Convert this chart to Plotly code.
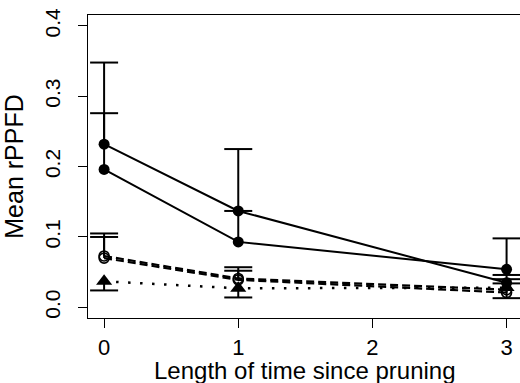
import plotly.graph_objects as go

# ---- data ----
years = [0, 1, 3]

solid_a = [0.232, 0.137, 0.035]
solid_a_upper = [0.348, 0.225, 0.046]

solid_b = [0.196, 0.093, 0.054]
solid_b_upper = [0.276, 0.137, 0.098]

dash_c = [0.073, 0.041, 0.025]
dash_c_upper = [0.105, 0.057, 0.040]

dash_d = [0.070, 0.039, 0.021]
dash_d_upper = [0.100, 0.052, 0.034]

dot_e = [0.037, 0.027, 0.028]
dot_e_lower = [0.024, 0.014, 0.013]

x_ticks = [0, 1, 2, 3]
y_ticks = [0.0, 0.1, 0.2, 0.3, 0.4]
y_tick_labels = ["0.0", "0.1", "0.2", "0.3", "0.4"]
x_title = "Length of time since pruning"
y_title = "Mean rPPFD"

FONT = "Liberation Sans, Arial, Helvetica, sans-serif"
BLACK = "black"

fig = go.Figure()


def add_series(y, bound, upward, dash, symbol, msize, mline=0, lw=2):
    if upward:
        plus = [b - v for v, b in zip(y, bound)]
        minus = [0 for _ in y]
    else:
        plus = [0 for _ in y]
        minus = [v - b for v, b in zip(y, bound)]
    fig.add_trace(go.Scatter(
        x=years, y=y, mode="lines+markers",
        line=dict(color=BLACK, width=lw, dash=dash),
        marker=dict(symbol=symbol, size=msize, color=BLACK,
                    line=dict(color=BLACK, width=mline)),
        error_y=dict(type="data", symmetric=False, array=plus,
                     arrayminus=minus, width=0, thickness=2, color=BLACK),
        showlegend=False, hoverinfo="skip", cliponaxis=False,
    ))
    fig.add_trace(go.Scatter(
        x=years, y=bound, mode="markers",
        marker=dict(symbol="line-ew", size=20, color=BLACK,
                    line=dict(color=BLACK, width=2)),
        showlegend=False, hoverinfo="skip", cliponaxis=False,
    ))


add_series(dot_e, dot_e_lower, False, "2.5px,9.5px", "triangle-up", 14, lw=2.5)
add_series(dash_d, dash_d_upper, True, "8px,4px", "circle-open", 10, 1.6, lw=2.2)
add_series(dash_c, dash_c_upper, True, "8px,4px", "circle-open", 10, 1.6, lw=2.2)
add_series(solid_b, solid_b_upper, True, "solid", "circle", 11)
add_series(solid_a, solid_a_upper, True, "solid", "circle", 11)

fig.update_layout(
    width=520, height=383,
    margin=dict(l=88, r=0, t=15, b=65),
    paper_bgcolor="white", plot_bgcolor="white",
    font=dict(family=FONT, color=BLACK, size=22),
    showlegend=False,
)

fig.add_annotation(
    text=x_title, xref="x", yref="paper", x=1.5, y=-0.172,
    xanchor="center", yanchor="middle", showarrow=False,
    font=dict(size=24, family=FONT, color=BLACK),
)

fig.update_xaxes(
    range=[-0.12, 3.10],
    tickmode="array", tickvals=x_ticks,
    ticks="outside", ticklen=9, tickwidth=1.3, tickcolor=BLACK,
    showline=True, linecolor=BLACK, linewidth=1.3, mirror=True,
    showgrid=False, zeroline=False,
    tickfont=dict(size=22, family=FONT),
    ticklabelstandoff=0,
)

fig.update_yaxes(
    range=[-0.0152, 0.4156],
    tickmode="array", tickvals=y_ticks, ticktext=y_tick_labels,
    ticks="outside", ticklen=9, tickwidth=1.3, tickcolor=BLACK,
    showline=True, linecolor=BLACK, linewidth=1.3, mirror=False,
    showgrid=False, zeroline=False,
    tickangle=-90,
    tickfont=dict(size=21, family=FONT),
    ticklabelstandoff=9,
    title=dict(text=y_title, font=dict(size=25, family=FONT), standoff=12),
)

fig.write_html("out.html")
